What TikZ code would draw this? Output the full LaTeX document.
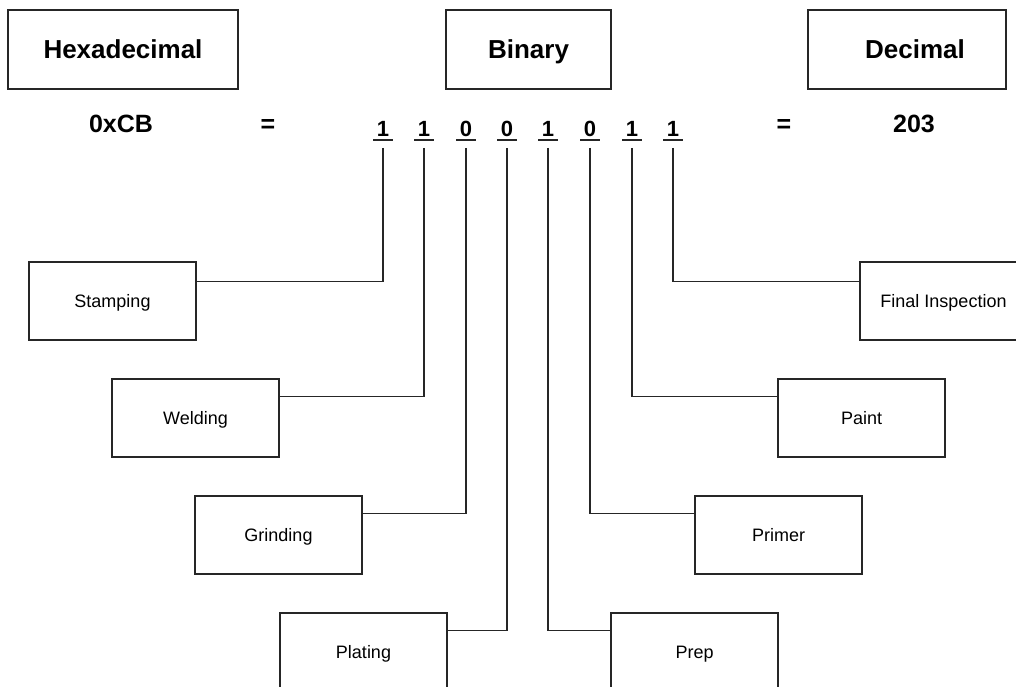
\documentclass[tikz,border=0pt]{standalone}
\usepackage{fontspec}
\setmainfont{Liberation Sans}
\begin{document}
\begin{tikzpicture}[x=1pt,y=-1pt,
  ln/.style={line width=1.2pt,draw=black!85},
  titlebox/.style={ln,rectangle,minimum height=79pt,inner sep=0pt,text height=18.6pt,text depth=0pt,font=\fontsize{26}{30}\selectfont\bfseries},
  stagebox/.style={ln,rectangle,minimum width=167pt,minimum height=78pt,inner sep=0pt,text height=13pt,text depth=0pt,font=\fontsize{18}{22}\selectfont},
  valtext/.style={inner sep=0pt,text height=18pt,text depth=0pt,font=\fontsize{25}{30}\selectfont\bfseries},
  digit/.style={inner sep=0pt,anchor=base,font=\fontsize{22}{26}\selectfont\bfseries},
  wire/.style={ln}]
\useasboundingbox (0,0) rectangle (1016,687);
\clip (0,0) rectangle (1016,687);
% title boxes
\node[titlebox,minimum width=230pt] (hexbox) at (123,49.5) {Hexadecimal};
\node[titlebox,minimum width=165pt] (binbox) at (528.5,49.5) {Binary};
\node[titlebox,minimum width=198pt] (decbox) at (907,49.5) {\hspace*{16pt}Decimal};
% values
\node[valtext] (hexval) at (121,124) {0xCB};
\node[valtext] (eq1) at (268,124) {=};
\node[valtext] (eq2) at (784,124) {=};
\node[valtext] (decval) at (914,124) {203};
% digits
\foreach \i/\x/\d in {1/383/1,2/424/1,3/466/0,4/507/0,5/548/1,6/590/0,7/632/1,8/673/1}{
  \node[digit] (dg\i) at (\x,137) {\d};
  \draw[ln] ([xshift=-10pt,yshift=-3pt]dg\i.base) -- ([xshift=10pt,yshift=-3pt]dg\i.base);
}
% stage boxes
\node[stagebox] (stamping) at (112.5,301) {Stamping};
\node[stagebox] (welding) at (195.5,418) {Welding};
\node[stagebox] (grinding) at (278.5,535) {Grinding};
\node[stagebox] (plating) at (363.5,652) {Plating};
\node[stagebox] (prep) at (694.5,652) {Prep};
\node[stagebox] (primer) at (778.5,535) {Primer};
\node[stagebox] (paint) at (861.5,418) {Paint};
\node[stagebox] (final) at (943.5,301) {Final Inspection};
% connectors
\draw[wire] ([yshift=-11pt]dg1.base) |- ([yshift=-20pt]stamping.north east);
\draw[wire] ([yshift=-11pt]dg2.base) |- ([yshift=-18pt]welding.north east);
\draw[wire] ([yshift=-11pt]dg3.base) |- ([yshift=-18pt]grinding.north east);
\draw[wire] ([yshift=-11pt]dg4.base) |- ([yshift=-18pt]plating.north east);
\draw[wire] ([yshift=-11pt]dg5.base) |- ([yshift=-18pt]prep.north west);
\draw[wire] ([yshift=-11pt]dg6.base) |- ([yshift=-18pt]primer.north west);
\draw[wire] ([yshift=-11pt]dg7.base) |- ([yshift=-18pt]paint.north west);
\draw[wire] ([yshift=-11pt]dg8.base) |- ([yshift=-20pt]final.north west);
\end{tikzpicture}
\end{document}
